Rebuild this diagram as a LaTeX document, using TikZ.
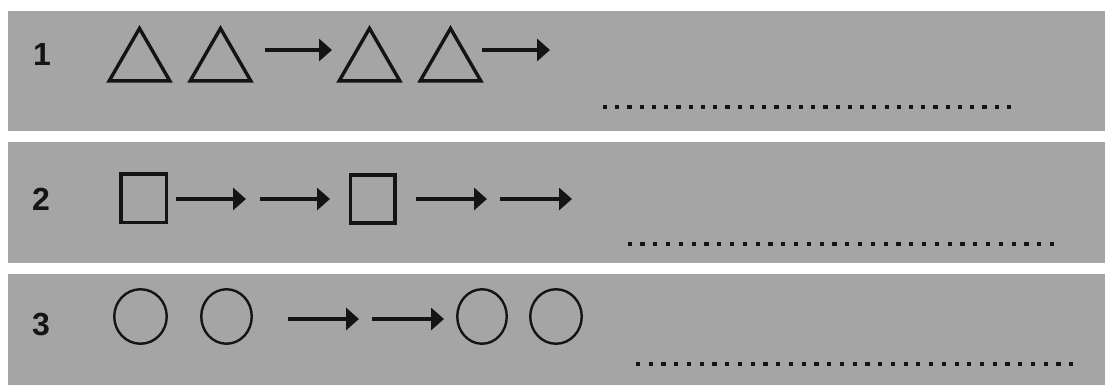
\documentclass[tikz,border=0pt]{standalone}
\usepackage{fontspec}
\setmainfont{Liberation Sans}
\usetikzlibrary{shapes.geometric,arrows.meta}
\definecolor{paper}{RGB}{165,165,165}
\definecolor{ink}{RGB}{20,20,20}
\tikzset{
  strip/.style={fill=paper,draw=none},
  num/.style={inner sep=0pt,font=\bfseries\fontsize{32}{32}\selectfont,text=ink},
  tri/.style={regular polygon,regular polygon sides=3,minimum size=70pt,inner sep=0pt,draw=ink,line width=3.4pt,line join=miter},
  sq/.style={rectangle,inner sep=0pt,draw=ink,line width=3.6pt},
  circ/.style={ellipse,inner sep=0pt,draw=ink,line width=2.4pt},
  arr/.style={draw=ink,line width=3.6pt,-{Triangle[length=13pt,width=22pt]}},
  answer/.style={draw=ink,line width=4.2pt}
}
\begin{document}
\begin{tikzpicture}[x=1pt,y=-1pt]
\useasboundingbox (0,0) rectangle (1105,385);
% strips
\fill[strip] (8,11) rectangle (1105,131);
\fill[strip] (8,142) rectangle (1105,263);
\fill[strip] (8,274) rectangle (1105,385);
% row 1
\node[num] (n1) at (42,54.5) {1};
\node[tri] (t1) at (139.5,63.4) {};
\node[tri] (t2) at (220.5,63.4) {};
\node[tri] (t3) at (369.5,63.4) {};
\node[tri] (t4) at (450.5,63.4) {};
\coordinate (r1a) at (265,50);
\coordinate (r1b) at (332,50);
\coordinate (r1c) at (482,50);
\coordinate (r1d) at (550,50);
\draw[arr] (r1a) -- (r1b);
\draw[arr] (r1c) -- (r1d);
\coordinate (d1s) at (603,107);
\coordinate (d1e) at (1011,107);
\draw[answer,dash pattern=on 4.2pt off 8.04pt] (d1s) -- (d1e);
% row 2
\node[num] (n2) at (41,199.5) {2};
\node[sq,minimum width=45.5pt,minimum height=48.5pt] (s1) at (143.8,198.3) {};
\node[sq,minimum width=44.5pt,minimum height=48.5pt] (s2) at (372.7,199) {};
\coordinate (r2a) at (176,199);
\coordinate (r2b) at (246,199);
\coordinate (r2c) at (260,199);
\coordinate (r2d) at (330,199);
\coordinate (r2e) at (416,199);
\coordinate (r2f) at (487,199);
\coordinate (r2g) at (500,199);
\coordinate (r2h) at (572,199);
\draw[arr] (r2a) -- (r2b);
\draw[arr] (r2c) -- (r2d);
\draw[arr] (r2e) -- (r2f);
\draw[arr] (r2g) -- (r2h);
\coordinate (d2s) at (627.5,244);
\coordinate (d2e) at (1054,244);
\draw[answer,dash pattern=on 4.2pt off 8.6pt] (d2s) -- (d2e);
% row 3
\node[num] (n3) at (41,325) {3};
\node[circ,minimum width=52.5pt,minimum height=54.5pt] (c1) at (140.5,316.5) {};
\node[circ,minimum width=50.5pt,minimum height=54.5pt] (c2) at (226.5,316.5) {};
\node[circ,minimum width=49.5pt,minimum height=54.5pt] (c3) at (482,316.5) {};
\node[circ,minimum width=51.5pt,minimum height=54.5pt] (c4) at (556,316.5) {};
\coordinate (r3a) at (288,319);
\coordinate (r3b) at (359,319);
\coordinate (r3c) at (372,319);
\coordinate (r3d) at (444,319);
\draw[arr] (r3a) -- (r3b);
\draw[arr] (r3c) -- (r3d);
\coordinate (d3s) at (636,364);
\coordinate (d3e) at (1073,364);
\draw[answer,dash pattern=on 4.2pt off 8.54pt] (d3s) -- (d3e);
\end{tikzpicture}
\end{document}
